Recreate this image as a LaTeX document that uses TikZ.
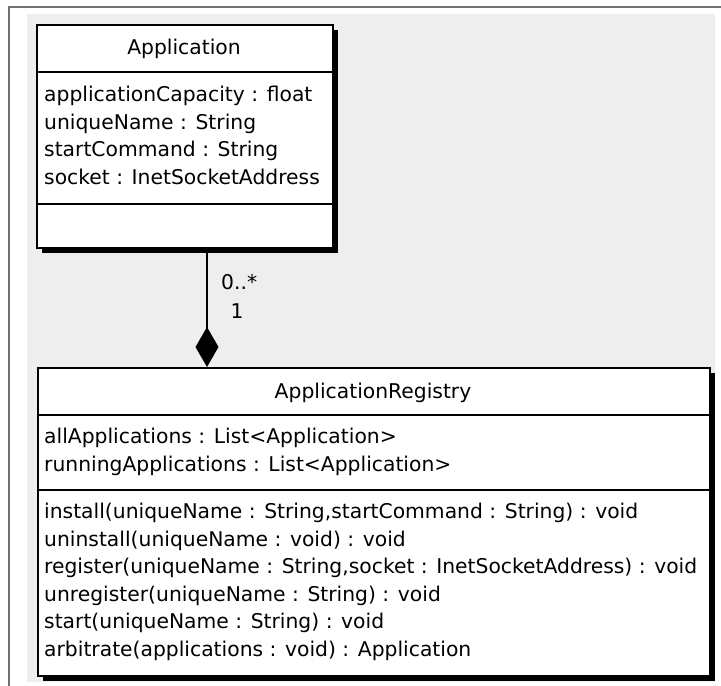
\documentclass[tikz,border=0pt]{standalone}
\usepackage{fontspec}
\setmainfont{DejaVu Sans}
\usetikzlibrary{arrows.meta,shadows}
\definecolor{panelgray}{HTML}{EEEEEE}
\definecolor{framegray}{HTML}{707070}
\begin{document}
\begin{tikzpicture}[x=1pt,y=-1pt,
  classbox/.style={rectangle, draw=black, line width=2pt, fill=white, inner sep=0pt,
    anchor=north west,
    drop shadow={shadow xshift=4.5pt, shadow yshift=-4.5pt, fill=black, opacity=1}},
  member/.style={anchor=west, inner sep=0pt, font=\fontsize{20.3}{24}\selectfont,
    text height=15pt, text depth=5pt},
  classname/.style={member, anchor=center},
  divider/.style={line width=1.5pt},
  composition/.style={line width=1.5pt, -{Diamond[length=40pt,width=23pt]}},
  mult/.style={member}]

  % canvas, frame and panel
  \useasboundingbox (0,0) rectangle (721,686);
  \fill[white] (0,0) rectangle (721,686);
  \draw[framegray, line width=1.6pt] (9,686) -- (9,7) -- (721,7);
  \fill[panelgray] (27,14) rectangle (715,682);

  % class Application
  \node[classbox, minimum width=296pt, minimum height=223pt] (app) at (36,24) {};
  \coordinate (appHead) at (0,72);
  \coordinate (appAttr) at (0,204);
  \draw[divider] (app.west |- appHead) -- (app.east |- appHead);
  \draw[divider] (app.west |- appAttr) -- (app.east |- appAttr);
  \node[classname] (appName) at (184,49) {Application};
  \node[member] (a1) at (44,96)  {applicationCapacity : float};
  \node[member] (a2) at (44,124) {uniqueName : String};
  \node[member] (a3) at (44,151) {startCommand : String};
  \node[member] (a4) at (44,179) {socket : InetSocketAddress};

  % class ApplicationRegistry
  \node[classbox, minimum width=672pt, minimum height=308pt] (reg) at (37,367) {};
  \coordinate (regHead) at (0,415);
  \coordinate (regAttr) at (0,490);
  \draw[divider] (reg.west |- regHead) -- (reg.east |- regHead);
  \draw[divider] (reg.west |- regAttr) -- (reg.east |- regAttr);
  \node[classname] (regName) at (373,393) {ApplicationRegistry};
  \node[member] (r1) at (44,438) {allApplications : List<Application>};
  \node[member] (r2) at (44,466) {runningApplications : List<Application>};
  \node[member] (m1) at (44,513) {install(uniqueName : String,startCommand : String) : void};
  \node[member] (m2) at (44,541) {uninstall(uniqueName : void) : void};
  \node[member] (m3) at (44,568) {register(uniqueName : String,socket : InetSocketAddress) : void};
  \node[member] (m4) at (44,596) {unregister(uniqueName : String) : void};
  \node[member] (m5) at (44,623) {start(uniqueName : String) : void};
  \node[member] (m6) at (44,651) {arbitrate(applications : void) : Application};

  % composition
  \coordinate (link) at (207,0);
  \draw[composition] (app.south -| link) -- (reg.north -| link);
  \node[mult] (many) at (221,284) {0..*};
  \node[mult, anchor=center] (one) at (237,313) {1};
\end{tikzpicture}
\end{document}
